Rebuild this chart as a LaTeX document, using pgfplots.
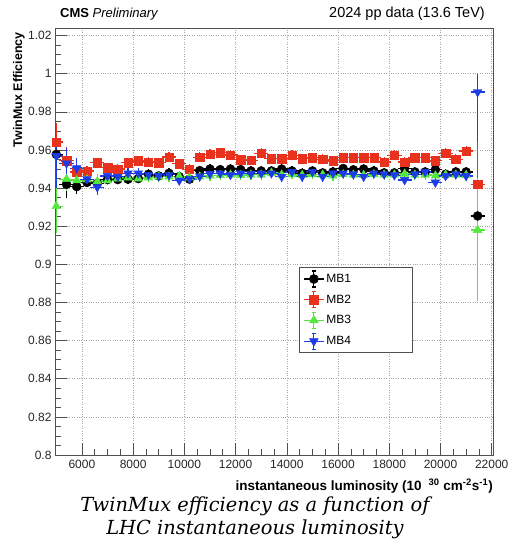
\documentclass[border=0pt]{standalone}
\usepackage{fontspec}
\setmainfont{Liberation Sans}
\newfontfamily\capfont{DejaVu Serif}
\usepackage{pgfplots}
\usepackage{pgfplotstable}
\pgfplotsset{compat=1.18}

\definecolor{mbred}{HTML}{E8321E}
\definecolor{mbgreen}{HTML}{55E640}
\definecolor{mbblue}{HTML}{1E3CE6}
\definecolor{framegray}{HTML}{505050}

% columns: luminosity, efficiency, half bin width, error up, error down
\pgfplotstableread{
x y ex ep em
5000 0.9577 200 0.005 0.005
5400 0.9420 200 0.006 0.006
5800 0.9408 200 0.003 0.003
6200 0.9430 200 0.0015 0.0015
6600 0.9425 200 0.0015 0.0015
7000 0.9445 200 0.0015 0.0015
7400 0.9445 200 0.0015 0.0015
7800 0.9447 200 0.0015 0.0015
8200 0.9450 200 0.0015 0.0015
8600 0.9473 200 0.0015 0.0015
9000 0.9464 200 0.0015 0.0015
9400 0.9478 200 0.0015 0.0015
9800 0.9460 200 0.0015 0.0015
10200 0.9447 200 0.0015 0.0015
10600 0.9492 200 0.0015 0.0015
11000 0.9500 200 0.0015 0.0015
11400 0.9497 200 0.0015 0.0015
11800 0.9500 200 0.0015 0.0015
12200 0.9497 200 0.0015 0.0015
12600 0.9490 200 0.0015 0.0015
13000 0.9490 200 0.0015 0.0015
13400 0.9490 200 0.0015 0.0015
13800 0.9500 200 0.0015 0.0015
14200 0.9490 200 0.0015 0.0015
14600 0.9478 200 0.0015 0.0015
15000 0.9490 200 0.0015 0.0015
15400 0.9480 200 0.0015 0.0015
15800 0.9485 200 0.0015 0.0015
16200 0.9503 200 0.0015 0.0015
16600 0.9496 200 0.0015 0.0015
17000 0.9500 200 0.0015 0.0015
17400 0.9490 200 0.0015 0.0015
17800 0.9480 200 0.0015 0.0015
18200 0.9480 200 0.0015 0.0015
18600 0.9503 200 0.0015 0.0015
19000 0.9485 200 0.0015 0.0015
19400 0.9485 200 0.0015 0.0015
19800 0.9497 200 0.0015 0.0015
20200 0.9473 200 0.0015 0.0015
20600 0.9485 200 0.0015 0.0015
21000 0.9485 200 0.0015 0.0015
21450 0.9254 200 0.025 0.032
}\mbone

\pgfplotstableread{
x y ex ep em
5000 0.9642 200 0.009 0.009
5400 0.9543 200 0.006 0.006
5800 0.9485 200 0.003 0.003
6200 0.9490 200 0.0015 0.0015
6600 0.9534 200 0.0015 0.0015
7000 0.9508 200 0.0015 0.0015
7400 0.9500 200 0.0015 0.0015
7800 0.9534 200 0.0015 0.0015
8200 0.9543 200 0.0015 0.0015
8600 0.9537 200 0.0015 0.0015
9000 0.9533 200 0.0015 0.0015
9400 0.9563 200 0.0015 0.0015
9800 0.9528 200 0.0015 0.0015
10200 0.9499 200 0.0015 0.0015
10600 0.9562 200 0.0015 0.0015
11000 0.9578 200 0.0015 0.0015
11400 0.9586 200 0.0015 0.0015
11800 0.9574 200 0.0015 0.0015
12200 0.9550 200 0.0015 0.0015
12600 0.9545 200 0.0015 0.0015
13000 0.9583 200 0.0015 0.0015
13400 0.9555 200 0.0015 0.0015
13800 0.9555 200 0.0015 0.0015
14200 0.9572 200 0.0015 0.0015
14600 0.9555 200 0.0015 0.0015
15000 0.9560 200 0.0015 0.0015
15400 0.9551 200 0.0015 0.0015
15800 0.9543 200 0.0015 0.0015
16200 0.9560 200 0.0015 0.0015
16600 0.9560 200 0.0015 0.0015
17000 0.9560 200 0.0015 0.0015
17400 0.9560 200 0.0015 0.0015
17800 0.9537 200 0.0015 0.0015
18200 0.9572 200 0.0015 0.0015
18600 0.9537 200 0.0015 0.0015
19000 0.9560 200 0.0015 0.0015
19400 0.9560 200 0.0015 0.0015
19800 0.9543 200 0.0015 0.0015
20200 0.9583 200 0.0015 0.0015
20600 0.9551 200 0.0015 0.0015
21000 0.9595 200 0.0015 0.0015
21450 0.9420 200 0.023 0.030
}\mbtwo

\pgfplotstableread{
x y ex ep em
5000 0.9305 200 0.014 0.013
5400 0.9447 200 0.005 0.005
5800 0.9440 200 0.004 0.004
6200 0.9445 200 0.0015 0.0015
6600 0.9435 200 0.0030 0.0030
7000 0.9440 200 0.0015 0.0015
7400 0.9450 200 0.0015 0.0015
7800 0.9455 200 0.0015 0.0015
8200 0.9450 200 0.0015 0.0015
8600 0.9455 200 0.0015 0.0015
9000 0.9460 200 0.0015 0.0015
9400 0.9460 200 0.0015 0.0015
9800 0.9462 200 0.0015 0.0015
10200 0.9455 200 0.0015 0.0015
10600 0.9460 200 0.0015 0.0015
11000 0.9465 200 0.0015 0.0015
11400 0.9468 200 0.0015 0.0015
11800 0.9470 200 0.0015 0.0015
12200 0.9468 200 0.0015 0.0015
12600 0.9470 200 0.0015 0.0015
13000 0.9470 200 0.0015 0.0015
13400 0.9480 200 0.0015 0.0015
13800 0.9470 200 0.0015 0.0015
14200 0.9472 200 0.0015 0.0015
14600 0.9468 200 0.0015 0.0015
15000 0.9472 200 0.0015 0.0015
15400 0.9470 200 0.0015 0.0015
15800 0.9465 200 0.0015 0.0015
16200 0.9472 200 0.0015 0.0015
16600 0.9470 200 0.0015 0.0015
17000 0.9468 200 0.0015 0.0015
17400 0.9472 200 0.0015 0.0015
17800 0.9470 200 0.0015 0.0015
18200 0.9470 200 0.0015 0.0015
18600 0.9475 200 0.0015 0.0015
19000 0.9470 200 0.0015 0.0015
19400 0.9470 200 0.0015 0.0015
19800 0.9465 200 0.0015 0.0015
20200 0.9470 200 0.0015 0.0015
20600 0.9470 200 0.0015 0.0015
21000 0.9468 200 0.0015 0.0015
21450 0.9180 200 0.026 0.036
}\mbthree

\pgfplotstableread{
x y ex ep em
5000 0.9569 200 0.007 0.016
5400 0.9530 200 0.007 0.007
5800 0.9505 200 0.004 0.004
6200 0.9447 200 0.003 0.003
6600 0.9405 200 0.003 0.003
7000 0.9464 200 0.0015 0.0015
7400 0.9460 200 0.0015 0.0015
7800 0.9478 200 0.0015 0.0015
8200 0.9478 200 0.0015 0.0015
8600 0.9470 200 0.0015 0.0015
9000 0.9465 200 0.0015 0.0015
9400 0.9470 200 0.0015 0.0015
9800 0.9440 200 0.0015 0.0015
10200 0.9448 200 0.0015 0.0015
10600 0.9462 200 0.0015 0.0015
11000 0.9475 200 0.0015 0.0015
11400 0.9478 200 0.0015 0.0015
11800 0.9470 200 0.0015 0.0015
12200 0.9478 200 0.0015 0.0015
12600 0.9475 200 0.0015 0.0015
13000 0.9478 200 0.0015 0.0015
13400 0.9478 200 0.0015 0.0015
13800 0.9460 200 0.0015 0.0015
14200 0.9485 200 0.0015 0.0015
14600 0.9460 200 0.0015 0.0015
15000 0.9485 200 0.0015 0.0015
15400 0.9460 200 0.0015 0.0015
15800 0.9478 200 0.0015 0.0015
16200 0.9478 200 0.0015 0.0015
16600 0.9473 200 0.0015 0.0015
17000 0.9460 200 0.0015 0.0015
17400 0.9478 200 0.0015 0.0015
17800 0.9473 200 0.0015 0.0015
18200 0.9468 200 0.0015 0.0015
18600 0.9443 200 0.0015 0.0015
19000 0.9473 200 0.0015 0.0015
19400 0.9485 200 0.0015 0.0015
19800 0.9430 200 0.0015 0.0015
20200 0.9464 200 0.0015 0.0015
20600 0.9473 200 0.0015 0.0015
21000 0.9464 200 0.0015 0.0015
21450 0.9904 200 0.0085 0.025
}\mbfour

\begin{document}
\begin{tikzpicture}[x=1pt,y=1pt]
\path[use as bounding box] (0,0) rectangle (509,548);
\begin{axis}[
  at={(55pt,93pt)}, anchor=south west,
  scale only axis, width=438pt, height=427pt,
  xmin=4950, xmax=22050, ymin=0.8, ymax=1.024,
  xtick={6000,8000,...,22000}, minor x tick num=3,
  ytick={0.8,0.82,...,1.021}, minor y tick num=3,
  scaled x ticks=false, scaled y ticks=false,
  tick pos=left, tick align=inside,
  major tick length=12pt, minor tick length=6pt,
  every tick/.style={framegray, line width=0.6pt},
  axis line style={framegray, line width=0.7pt},
  grid=major,
  major grid style={gray!70, dotted, line width=0.5pt},
  /pgf/number format/assume math mode=true,
  tick label style={font=\fontsize{12}{12}\selectfont, text=black!85},
  xticklabel style={/pgf/number format/1000 sep={}, /pgf/number format/fixed, yshift=-2pt},
  yticklabel style={/pgf/number format/fixed, /pgf/number format/precision=2},
  legend style={at={(0.557,0.44)}, anchor=north west,
    draw=framegray, line width=0.6pt, fill=white,
    font=\fontsize{12}{14}\selectfont,
    inner xsep=4pt, inner ysep=3pt, row sep=3.5pt,
    cells={anchor=west}},
  legend image code/.code={
    \draw[#1, mark=none, line width=1.2pt] (-10pt,0pt) -- (10pt,0pt) (0pt,-8pt) -- (0pt,8pt)
      (-2pt,8pt) -- (2pt,8pt) (-2pt,-8pt) -- (2pt,-8pt);
    \draw[mark repeat=2, mark phase=2, #1] plot coordinates {(-10pt,0pt) (0pt,0pt) (10pt,0pt)};
  },
]
\addplot[black, only marks, mark=*, mark size=4.5pt,
  error bars/.cd, x dir=both, x explicit, y dir=both, y explicit,
  error bar style={draw=black, line width=1.3pt},
  error mark options={draw=black, line width=1.2pt, mark size=2pt}]
  table[x=x, y=y, x error=ex, y error plus=ep, y error minus=em] {\mbone};
\addlegendentry{\makebox[80pt][l]{MB1}}
\addplot[mbred, only marks, mark=square*, mark size=4.2pt,
  error bars/.cd, x dir=both, x explicit, y dir=both, y explicit,
  error bar style={draw=mbred, line width=1.3pt},
  error mark options={draw=mbred, line width=1.2pt, mark size=2pt}]
  table[x=x, y=y, x error=ex, y error plus=ep, y error minus=em] {\mbtwo};
\addlegendentry{\makebox[80pt][l]{MB2}}
\addplot[mbgreen, only marks, mark=triangle*, mark size=5pt,
  error bars/.cd, x dir=both, x explicit, y dir=both, y explicit,
  error bar style={draw=mbgreen, line width=1.3pt},
  error mark options={draw=mbgreen, line width=1.2pt, mark size=2pt}]
  table[x=x, y=y, x error=ex, y error plus=ep, y error minus=em] {\mbthree};
\addlegendentry{\makebox[80pt][l]{MB3}}
\addplot[mbblue, only marks, mark=triangle*, mark size=5pt, mark options={rotate=180},
  error bars/.cd, x dir=both, x explicit, y dir=both, y explicit,
  error bar style={draw=mbblue, line width=1.3pt},
  error mark options={draw=mbblue, line width=1.2pt, mark size=2pt}]
  table[x=x, y=y, x error=ex, y error plus=ep, y error minus=em] {\mbfour};
\addlegendentry{\makebox[80pt][l]{MB4}}
\end{axis}

% header
\node[anchor=base west, inner sep=0pt, font=\fontsize{13}{14}\selectfont] at (60,530)
  {\textbf{CMS} \textit{Preliminary}};
\node[anchor=base east, inner sep=0pt, font=\fontsize{14.5}{15}\selectfont] at (485,530)
  {2024 pp data (13.6 TeV)};
% axis titles
\node[rotate=90, anchor=base east, inner sep=0pt, font=\bfseries\fontsize{12.5}{13}\selectfont] at (22,516)
  {TwinMux Efficiency};
\node[anchor=base east, inner sep=0pt, font=\bfseries\fontsize{13.5}{14}\selectfont] at (493,57)
  {instantaneous luminosity (10\hspace{7pt}\textsuperscript{30} cm\textsuperscript{-2}s\textsuperscript{-1})};
% caption
\node[anchor=base, inner sep=0pt, font=\capfont\itshape\fontsize{19.4}{23}\selectfont] at (255,36)
  {TwinMux efficiency as a function of};
\node[anchor=base, inner sep=0pt, font=\capfont\itshape\fontsize{19.4}{23}\selectfont] at (255,13)
  {LHC instantaneous luminosity};
\end{tikzpicture}
\end{document}
